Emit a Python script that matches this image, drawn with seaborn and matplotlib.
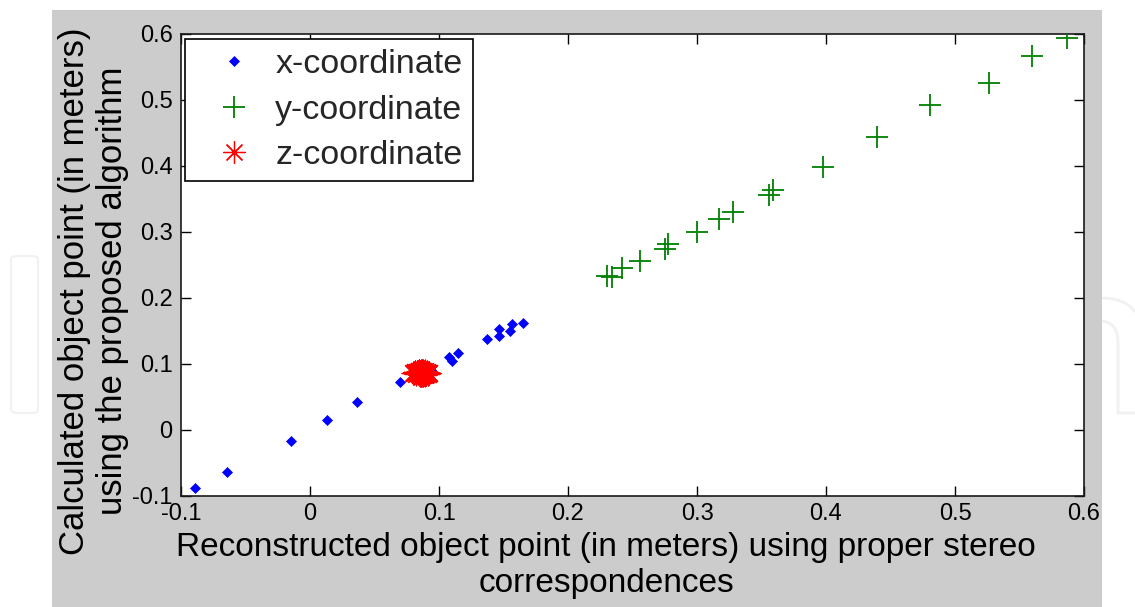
import numpy as np
import pandas as pd
import matplotlib
matplotlib.use("Agg")
import matplotlib.pyplot as plt
from matplotlib.lines import Line2D
from matplotlib.patches import Rectangle, FancyBboxPatch, PathPatch
from matplotlib.path import Path
import seaborn as sns

# ---------------- data ----------------
x_ref = [-0.0889, -0.0641, -0.0151, 0.0131, 0.0368, 0.0700, 0.0936, 0.1075,
         0.1100, 0.1150, 0.1369, 0.1462, 0.1468, 0.1551, 0.1565, 0.1648]
x_calc = [-0.0874, -0.0632, -0.0162, 0.0147, 0.0420, 0.0728, 0.0910, 0.1105,
          0.1045, 0.1168, 0.1376, 0.1430, 0.1528, 0.1505, 0.1603, 0.1626]

y_ref = [0.5865, 0.5599, 0.5264, 0.4803, 0.4398, 0.3979, 0.3588, 0.3560,
         0.3280, 0.3169, 0.3000, 0.2774, 0.2751, 0.2556, 0.2418, 0.2343, 0.2305]
y_calc = [0.5944, 0.5667, 0.5253, 0.4924, 0.4435, 0.3990, 0.3636, 0.3560,
          0.3308, 0.3197, 0.3005, 0.2815, 0.2735, 0.2566, 0.2455, 0.2318, 0.2333]

z_ref = [0.0865, 0.0850, 0.0880, 0.0838, 0.0897, 0.0822, 0.0908, 0.0870,
         0.0860, 0.0808, 0.0915, 0.0855, 0.0875, 0.0845, 0.0890, 0.0828,
         0.0902, 0.0868, 0.0836, 0.0883, 0.0862, 0.0802, 0.0926, 0.0848,
         0.0878, 0.0858, 0.0872, 0.0833, 0.0899, 0.0852, 0.0887, 0.0866,
         0.0842, 0.0894, 0.0815, 0.0917, 0.0860, 0.0876, 0.0850, 0.0885,
         0.0812, 0.0921, 0.0846, 0.0889]
z_calc = [0.0865, 0.0882, 0.0848, 0.0872, 0.0860, 0.0855, 0.0876, 0.0896,
          0.0834, 0.0868, 0.0862, 0.0857, 0.0880, 0.0846, 0.0887, 0.0886,
          0.0843, 0.0873, 0.0862, 0.0871, 0.0850, 0.0862, 0.0866, 0.0892,
          0.0840, 0.0900, 0.0830, 0.0878, 0.0852, 0.0837, 0.0882, 0.0856,
          0.0895, 0.0871, 0.0879, 0.0851, 0.0874, 0.0890, 0.0863, 0.0845,
          0.0874, 0.0858, 0.0898, 0.0833]

series_labels = ["x-coordinate", "y-coordinate", "z-coordinate"]
tick_values = [-0.1, 0, 0.1, 0.2, 0.3, 0.4, 0.5, 0.6]
tick_labels = ["-0.1", "0", "0.1", "0.2", "0.3", "0.4", "0.5", "0.6"]
xlabel_text = "Reconstructed object point (in meters) using proper stereo\ncorrespondences"
ylabel_text = "Calculated object point (in meters)\nusing the proposed algorithm"

# ---------------- style ----------------
sns.set_style("white")
plt.rcParams["font.family"] = ["Liberation Sans", "DejaVu Sans"]

W, H = 1135, 607
fig = plt.figure(figsize=(W / 100, H / 100), dpi=100, facecolor="white")

# grey MATLAB figure area
fig.patches.append(Rectangle((52 / W, 0), (1102 - 52) / W, (H - 10) / H,
                             transform=fig.transFigure, facecolor="#cccccc",
                             edgecolor="none", zorder=-5))

# faint watermark outlines on the white margins
fig.patches.append(FancyBboxPatch((11 / W, 1 - 413 / H), (38 - 11) / W, (413 - 256) / H,
                                  boxstyle="round,pad=0,rounding_size=0.006",
                                  transform=fig.transFigure, facecolor="none",
                                  edgecolor="#f1f1f1", linewidth=1.5, zorder=-6))

def fp(px, py):
    return (px / W, 1 - py / H)

inner = Path([fp(1102, 321), fp(1118, 323), fp(1118, 342), fp(1118, 413), fp(1135, 413)],
             [Path.MOVETO, Path.CURVE3, Path.CURVE3, Path.LINETO, Path.LINETO])
outer = Path([fp(1102, 298), fp(1125, 298), fp(1135, 312)],
             [Path.MOVETO, Path.CURVE3, Path.CURVE3])
for p in (inner, outer):
    fig.patches.append(PathPatch(p, transform=fig.transFigure, facecolor="none",
                                 edgecolor="#f1f1f1", linewidth=2, zorder=-6))

ax = fig.add_axes([181 / W, 1 - 496 / H, (1084 - 181) / W, (496 - 34) / H])
ax.set_facecolor("white")

df_x = pd.DataFrame({"ref": x_ref, "calc": x_calc})
df_y = pd.DataFrame({"ref": y_ref, "calc": y_calc})
df_z = pd.DataFrame({"ref": z_ref, "calc": z_calc})

star = (8, 2, 0)
sns.scatterplot(data=df_x, x="ref", y="calc", ax=ax, marker="D", s=26,
                color="#0000ff", edgecolor="#0000ff", linewidth=0.5, legend=False, zorder=3)
sns.scatterplot(data=df_y, x="ref", y="calc", ax=ax, marker="+", s=250,
                color="#008000", linewidth=1.3, legend=False, zorder=3)
sns.scatterplot(data=df_z, x="ref", y="calc", ax=ax, marker=star, s=270,
                color="#ff0000", linewidth=0.9, legend=False, zorder=4)

ax.set_xlim(-0.1, 0.6)
ax.set_ylim(-0.1, 0.6)
ax.set_xticks(tick_values)
ax.set_xticklabels(tick_labels)
ax.set_yticks(tick_values)
ax.set_yticklabels(tick_labels)
ax.tick_params(direction="in", length=7.5, width=1.0, colors="black",
               labelsize=17, top=True, right=True, bottom=True, left=True)
ax.tick_params(axis="x", pad=5)
ax.tick_params(axis="y", pad=6)
for sp in ax.spines.values():
    sp.set_visible(True)
    sp.set_color("#1a1a1a")
    sp.set_linewidth(1.2)

ax.set_xlabel(xlabel_text, fontsize=24, linespacing=1.22, color="black")
ax.xaxis.set_label_coords((606 - 181) / 903, -(532 - 496) / 462)
ax.set_ylabel(ylabel_text, fontsize=25, linespacing=1.2, color="black")
ax.yaxis.set_label_coords(-(181 - 129) / 903, (496 - 291) / 462)

handles = [
    Line2D([], [], linestyle="none", marker="D", markersize=5.2, color="#0000ff",
           markeredgewidth=0.5),
    Line2D([], [], linestyle="none", marker="+", markersize=16, color="#008000",
           markeredgewidth=1.3),
    Line2D([], [], linestyle="none", marker=star, markersize=16, color="#ff0000",
           markeredgewidth=0.9),
]
leg = ax.legend(handles, series_labels, loc="upper left",
                bbox_to_anchor=((185 - 181) / 903, (496 - 39) / 462),
                borderaxespad=0, fontsize=24.5, frameon=True, fancybox=False,
                borderpad=0.3, handlelength=2.3, handletextpad=0.05,
                labelspacing=0.42, edgecolor="black", framealpha=1)
leg.get_frame().set_linewidth(1.2)

fig.savefig("out.png", dpi=100, facecolor="white")
